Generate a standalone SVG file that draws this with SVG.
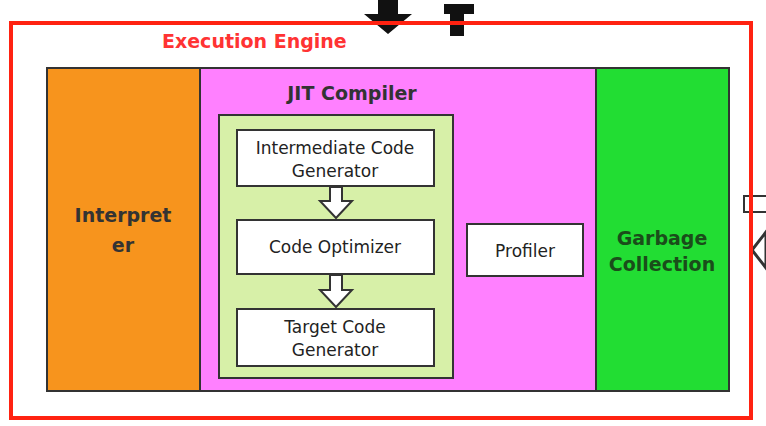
<svg xmlns="http://www.w3.org/2000/svg" width="766" height="426" viewBox="0 0 766 426">
<style>
.blk{stroke:#333;stroke-width:2}
.box{fill:#fff;stroke:#333;stroke-width:2}
.t{font-family:"DejaVu Sans",sans-serif;font-size:17px;fill:#222;text-anchor:middle}
.b{font-family:"DejaVu Sans",sans-serif;font-size:19px;font-weight:bold;text-anchor:middle}
.ha{fill:#fff;stroke:#333;stroke-width:2}
</style>
<rect width="766" height="426" fill="#fff"/>
<g id="bg-arrows">
<polygon points="378,0 398,0 398,14 412,14 388,34 364,14 378,14" fill="#111"/>
<polygon points="444,4 474,4 474,14 464,14 464,36 450,36 450,14 444,14" fill="#111"/>
<rect x="744" y="196" width="30" height="16" fill="#fff" stroke="#333" stroke-width="2"/>
<polygon points="766,232 752,250 766,268" fill="#fff" stroke="#333" stroke-width="3"/>
</g>
<g id="interpreter"><rect class="blk" x="47" y="68" width="153" height="323" fill="#f7941d"/>
<text class="b" fill="#333" x="123" y="222">Interpret</text><text class="b" fill="#333" x="123" y="252">er</text></g>
<g id="jit"><rect class="blk" x="200" y="68" width="396" height="323" fill="#ff80ff"/>
<text class="b" fill="#333" x="352" y="100">JIT Compiler</text>
<rect x="219" y="115" width="234" height="263" fill="#d7f0a8" stroke="#333" stroke-width="2"/></g>
<g id="gc"><rect class="blk" x="596" y="68" width="133" height="323" fill="#22dd33"/>
<text class="b" fill="#1a4d1a" x="662" y="245">Garbage</text><text class="b" fill="#1a4d1a" x="662" y="271">Collection</text></g>
<g id="icg"><rect class="box" x="237" y="130" width="197" height="56"/>
<text class="t" x="335" y="154">Intermediate Code</text><text class="t" x="335" y="177">Generator</text></g>
<g id="opt"><rect class="box" x="237" y="220" width="197" height="54"/>
<text class="t" x="335" y="253">Code Optimizer</text></g>
<g id="tcg"><rect class="box" x="237" y="309" width="197" height="57"/>
<text class="t" x="335" y="333">Target Code</text><text class="t" x="335" y="356">Generator</text></g>
<g id="profiler"><rect class="box" x="467" y="224" width="116" height="52"/>
<text class="t" x="525" y="257">Profiler</text></g>
<g id="connectors">
<polygon class="ha" points="330,187 342,187 342,201 352,201 336,218 320,201 330,201"/>
<polygon class="ha" points="330,275 342,275 342,290 352,290 336,307 320,290 330,290"/>
</g>
<g id="engine"><rect x="11" y="23" width="740" height="395" fill="none" stroke="#f21" stroke-width="4"/>
<text x="162" y="48" font-family="DejaVu Sans,sans-serif" font-size="19" font-weight="bold" fill="#f33">Execution Engine</text></g>
</svg>
